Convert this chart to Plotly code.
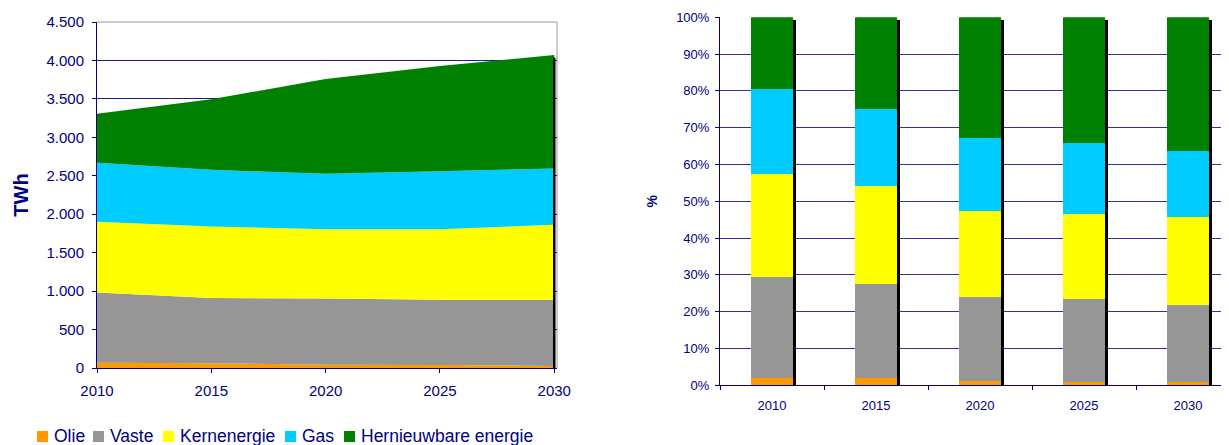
import plotly.graph_objects as go

# ---------------- data ----------------
years = [2010, 2015, 2020, 2025, 2030]
year_labels = ["2010", "2015", "2020", "2025", "2030"]
series_names = ["Olie", "Vaste", "Kernenergie", "Gas", "Hernieuwbare energie"]

# left chart: TWh per source (stacked areas)
olie_twh = [69, 63, 43, 40, 26]
vaste_twh = [914, 847, 862, 848, 862]
kern_twh = [918, 930, 901, 918, 974]
gas_twh = [767, 737, 719, 754, 732]
hern_twh = [640, 919, 1234, 1368, 1477]

# right chart: share per source (%)
olie_pct = [1.9, 1.9, 1.2, 0.9, 0.9]
vaste_pct = [27.6, 25.5, 22.8, 22.5, 21.0]
kern_pct = [27.9, 26.7, 23.5, 23.1, 23.8]
gas_pct = [23.2, 21.0, 19.7, 19.3, 18.0]
hern_pct = [19.4, 24.9, 32.8, 34.2, 36.3]

twh_series = [olie_twh, vaste_twh, kern_twh, gas_twh, hern_twh]
pct_series = [olie_pct, vaste_pct, kern_pct, gas_pct, hern_pct]

# ---------------- style / layout helpers ----------------
colors = ["#FF9900", "#969696", "#FFFF00", "#00CCFF", "#008000"]
NAVY = "#000080"
GRID = "#1c1c8c"
FONT = "Liberation Sans, Arial, sans-serif"
PAGE_W, PAGE_H = 1229, 445
OFF = 8                      # default page margin around the plot div
W, H = PAGE_W - OFF, PAGE_H - OFF


def px_x(x):
    return (x - OFF) / W


def px_y(y):
    return 1 - (y - OFF) / H


fig = go.Figure()

# left: stacked areas
for name, vals, col in zip(series_names, twh_series, colors):
    fig.add_trace(go.Scatter(
        x=years, y=vals, name=name, stackgroup="twh", mode="none",
        fillcolor=col, line=dict(width=0), showlegend=False,
        legendgroup=name, xaxis="x", yaxis="y", hoverinfo="x+y+name"))

# 3D-ish depth edge at the right end of the area
totals_twh = [sum(v) for v in zip(*twh_series)]
depth_twh = 35
fig.add_trace(go.Scatter(
    x=[years[-1], years[-1]], y=[0, totals_twh[-1] - depth_twh],
    mode="lines", line=dict(color="black", width=2.5),
    showlegend=False, hoverinfo="skip", xaxis="x", yaxis="y"))

# right: stacked bars
for name, vals, col in zip(series_names, pct_series, colors):
    fig.add_trace(go.Bar(
        x=year_labels, y=vals, name=name, marker=dict(color=col, line=dict(width=0)),
        width=0.4, legendgroup=name, showlegend=False, xaxis="x2", yaxis="y2"))

# bar shadows
totals_pct = [sum(v) for v in zip(*pct_series)]
depth_pct = 0.7
fig.add_trace(go.Bar(
    x=year_labels, y=[t - depth_pct for t in totals_pct],
    marker=dict(color="black", line=dict(width=0)), offset=0.2, width=0.034,
    showlegend=False, hoverinfo="skip", xaxis="x3", yaxis="y3"))

tickfont_l = dict(family=FONT, size=15, color=NAVY)
tickfont_r = dict(family=FONT, size=13, color=NAVY)

left_dom = [px_x(97), px_x(557)]
left_ydom = [px_y(368), px_y(22)]
right_dom = [px_x(720), 1.0]
right_ydom = [px_y(385.3), px_y(17.3)]
cat_px = 104
right_range = [-0.5, -0.5 + (PAGE_W - 720) / cat_px]

fig.update_layout(
    width=W, height=H,
    margin=dict(l=0, r=0, t=0, b=0, autoexpand=False),
    paper_bgcolor="white", plot_bgcolor="white",
    separators=",.",
    barmode="stack",
    font=dict(family=FONT, color=NAVY),
    showlegend=False,
    xaxis=dict(domain=left_dom, range=[2010, 2030.12], tickvals=years, ticktext=year_labels,
               showgrid=False, zeroline=False, showline=True, linecolor=NAVY, linewidth=1,
               ticks="outside", ticklen=4, tickcolor=NAVY, tickfont=tickfont_l,
               ticklabelstandoff=5, anchor="y"),
    yaxis=dict(domain=left_ydom, range=[0, 4500], dtick=500, tickformat=",d",
               showgrid=True, gridcolor=GRID, gridwidth=1, zeroline=False,
               showline=True, linecolor=NAVY, linewidth=1,
               ticks="outside", ticklen=4, tickcolor=NAVY, tickfont=tickfont_l,
               ticklabelstandoff=5,
               title=dict(text="<b>TWh</b>", font=dict(family=FONT, size=20, color=NAVY), standoff=12),
               anchor="x"),
    xaxis2=dict(domain=right_dom, type="category", range=right_range,
                tickson="boundaries", showgrid=False, zeroline=False,
                showline=True, linecolor=NAVY, linewidth=1,
                ticks="outside", ticklen=4, tickcolor=NAVY, tickfont=tickfont_r,
                ticklabelstandoff=8, anchor="y2"),
    yaxis2=dict(domain=right_ydom, range=[0, 100], dtick=10, ticksuffix="%",
                showgrid=True, gridcolor="#30309a", gridwidth=1, zeroline=False,
                showline=True, linecolor=NAVY, linewidth=1,
                ticks="outside", ticklen=4, tickcolor=NAVY, tickfont=tickfont_r,
                ticklabelstandoff=3,
                title=dict(text="<b>%</b>", font=dict(family=FONT, size=14, color=NAVY), standoff=15),
                anchor="x2"),
    xaxis3=dict(overlaying="x2", type="category", range=right_range, visible=False, anchor="y3"),
    yaxis3=dict(overlaying="y2", range=[0, 100], visible=False, anchor="x3"),
)

# plot-area border (top and right) of the left chart
fig.add_shape(type="line", xref="x domain", yref="y domain", x0=0, x1=1, y0=1, y1=1,
              line=dict(color="#999999", width=1), layer="above")
fig.add_shape(type="line", xref="x domain", yref="y domain", x0=1, x1=1, y0=0, y1=1,
              line=dict(color="#999999", width=1), layer="below")

# legend (square swatch + label per series), laid out as in the reference
legend_sq_left = [37, 93, 163, 285, 344]
legend_sq_size = 11
legend_text_gap = 5
legend_baseline = 442
for name, col, sx in zip(series_names, colors, legend_sq_left):
    fig.add_shape(type="rect", xref="paper", yref="paper",
                  x0=px_x(sx), x1=px_x(sx + legend_sq_size),
                  y0=px_y(legend_baseline), y1=px_y(legend_baseline - legend_sq_size),
                  fillcolor=col, line=dict(width=0), layer="above")
    fig.add_annotation(text=name, xref="paper", yref="paper",
                       x=px_x(sx + legend_sq_size + legend_text_gap), xanchor="left",
                       y=px_y(legend_baseline - 6), yanchor="middle",
                       showarrow=False, borderpad=0,
                       font=dict(family=FONT, size=17.5, color=NAVY))

fig.write_html("out.html")
